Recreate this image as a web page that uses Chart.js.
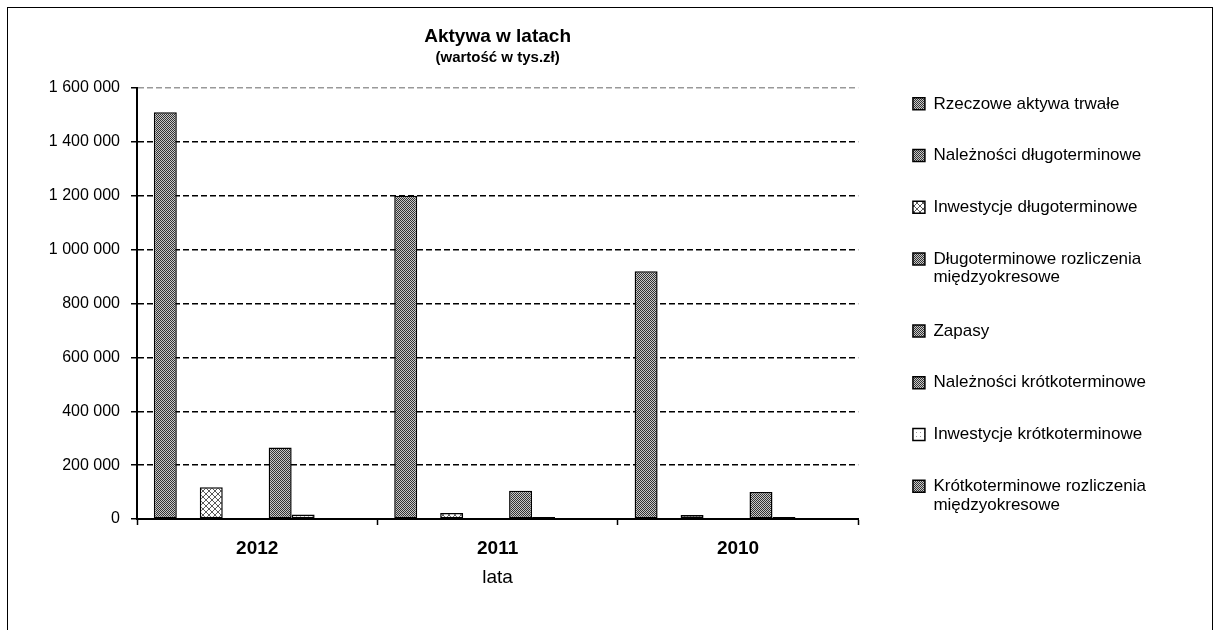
<!DOCTYPE html>
<html>
<head>
<meta charset="utf-8">
<script src="https://cdn.jsdelivr.net/npm/chart.js@4.4.1/dist/chart.umd.min.js"></script>
<style>
    body { margin: 0; background: #fff; }
    #frame { position: absolute; left: 7px; top: 7px; width: 1204px; height: 640px; border: 1.5px solid #000; border-bottom: none; }
    #wrap { position: absolute; left: 8px; top: 8px; }
</style>
</head>
<body>
<div id="frame"></div>
<div id="wrap"><canvas id="chart" width="1148" height="622"></canvas></div>
<script>
const years = ['2012', '2011', '2010'];
const seriesNames = [
    'Rzeczowe aktywa trwałe',
    'Należności długoterminowe',
    'Inwestycje długoterminowe',
    'Długoterminowe rozliczenia\nmiędzyokresowe',
    'Zapasy',
    'Należności krótkoterminowe',
    'Inwestycje krótkoterminowe',
    'Krótkoterminowe rozliczenia\nmiędzyokresowe'
];
// wartości w tys. zł
const rzeczoweAktywaTrwale = [1510000, 1200000, 920000];
const naleznosciDlugoterminowe = [0, 0, 0];
const inwestycjeDlugoterminowe = [118000, 22000, 15000];
const rozliczeniaDlugoterminowe = [0, 0, 0];
const zapasy = [0, 0, 0];
const naleznosciKrotkoterminowe = [265000, 105000, 100000];
const inwestycjeKrotkoterminowe = [17000, 7000, 7000];
const rozliczeniaKrotkoterminowe = [0, 0, 0];
const seriesValues = [
    rzeczoweAktywaTrwale, naleznosciDlugoterminowe, inwestycjeDlugoterminowe, rozliczeniaDlugoterminowe,
    zapasy, naleznosciKrotkoterminowe, inwestycjeKrotkoterminowe, rozliczeniaKrotkoterminowe
];
const seriesFills = ['dark', 'dark', 'cross', 'dark', 'dark', 'dark', 'sparse', 'dark'];

function makePattern(kind) {
    const c = document.createElement('canvas');
    const size = kind === 'cross' ? 6 : 4;
    c.width = c.height = size;
    const g = c.getContext('2d');
    g.fillStyle = kind === 'dark' ? '#c8c8c8' : '#fff';
    g.fillRect(0, 0, size, size);
    for (let y = 0; y < size; y++) {
        for (let x = 0; x < size; x++) {
            if (kind === 'dark' && (x + y) % 2 === 0) {
                g.fillStyle = '#333';
                g.fillRect(x, y, 1, 1);
            } else if (kind === 'cross' && (x === y || x === size - 1 - y)) {
                g.fillStyle = '#5a5a5a';
                g.fillRect(x, y, 1, 1);
            } else if (kind === 'sparse' && x === 0 && y === 0) {
                g.fillStyle = '#999';
                g.fillRect(x, y, 1, 1);
            }
        }
    }
    return g.createPattern(c, 'repeat');
}

function formatNumber(v) {
    return String(v).replace(/\B(?=(\d{3})+(?!\d))/g, ' ');
}

const datasets = seriesNames.map((name, i) => ({
    label: name.replace('\n', ' '),
    data: seriesValues[i],
    backgroundColor: makePattern(seriesFills[i]),
    borderColor: '#000',
    borderWidth: 1.5,
    borderSkipped: false
}));
// pusta kolumna - w oryginale grupa słupków nie jest wyśrodkowana
datasets.push({ label: '', data: [null, null, null], backgroundColor: 'transparent', borderWidth: 0 });

Chart.defaults.font.family = "'Liberation Sans', Arial, sans-serif";
Chart.defaults.color = '#000';

new Chart(document.getElementById('chart'), {
    type: 'bar',
    data: { labels: years, datasets: datasets },
    options: {
        responsive: false,
        animation: false,
        layout: { padding: { top: 0, bottom: 40.6, left: 0, right: 0 } },
        datasets: { bar: { categoryPercentage: 0.86, barPercentage: 1.0 } },
        plugins: {
            title: {
                display: true,
                text: 'Aktywa w latach',
                fullSize: false,
                font: { size: 19, weight: 'bold' },
                padding: { top: 17.6, bottom: 0 }
            },
            subtitle: {
                display: true,
                text: '(wartość w tys.zł)',
                fullSize: false,
                font: { size: 15, weight: 'bold' },
                padding: { top: 0, bottom: 21.6 }
            },
            legend: {
                position: 'right',
                align: 'center',
                maxWidth: 330,
                // pusty tytuł legendy tylko przesuwa wpisy w dół
                title: { display: true, text: ' ', font: { size: 10, lineHeight: 1.3 }, padding: 0 },
                labels: {
                    boxWidth: 12,
                    boxHeight: 12,
                    padding: 34.7,
                    font: { size: 17, lineHeight: 1.1 },
                    filter: item => item.text !== '',
                    generateLabels: chart => {
                        const items = Chart.defaults.plugins.legend.labels.generateLabels(chart);
                        items.forEach(item => {
                            if (item.datasetIndex < seriesNames.length) {
                                const lines = seriesNames[item.datasetIndex].split('\n');
                                item.text = lines.length > 1 ? lines : lines[0];
                                item.lineWidth = 1.5;
                            }
                        });
                        return items;
                    }
                }
            },
            tooltip: { enabled: false }
        },
        scales: {
            x: {
                grid: {
                    offset: true,
                    drawOnChartArea: true,
                    color: c => c.index === years.length ? '#888' : 'transparent',
                    lineWidth: 1,
                    tickLength: 6,
                    tickColor: '#000',
                    tickWidth: 1.5
                },
                border: { display: true, color: '#000', width: 2 },
                ticks: { font: { size: 19, weight: 'bold' }, padding: 12.6 },
                title: {
                    display: true,
                    text: 'lata',
                    font: { size: 19 },
                    padding: { top: -6.4, bottom: 0 }
                }
            },
            y: {
                min: 0,
                max: 1600000,
                ticks: {
                    stepSize: 200000,
                    font: { size: 16 },
                    padding: 11,
                    callback: v => formatNumber(v)
                },
                grid: {
                    color: c => c.tick && c.tick.value === 1600000 ? '#999' : '#000',
                    lineWidth: 1.5,
                    tickLength: 6,
                    tickColor: '#000',
                    tickBorderDash: []
                },
                border: { display: true, color: '#000', width: 2, dash: [6, 3] },
                afterFit: s => { s.width = 129; }
            },
            gap: {
                type: 'linear',
                axis: 'y',
                position: 'right',
                grid: { display: false },
                border: { display: false },
                ticks: { display: false },
                afterFit: s => { s.width = 20; }
            }
        }
    }
});
</script>
</body>
</html>
